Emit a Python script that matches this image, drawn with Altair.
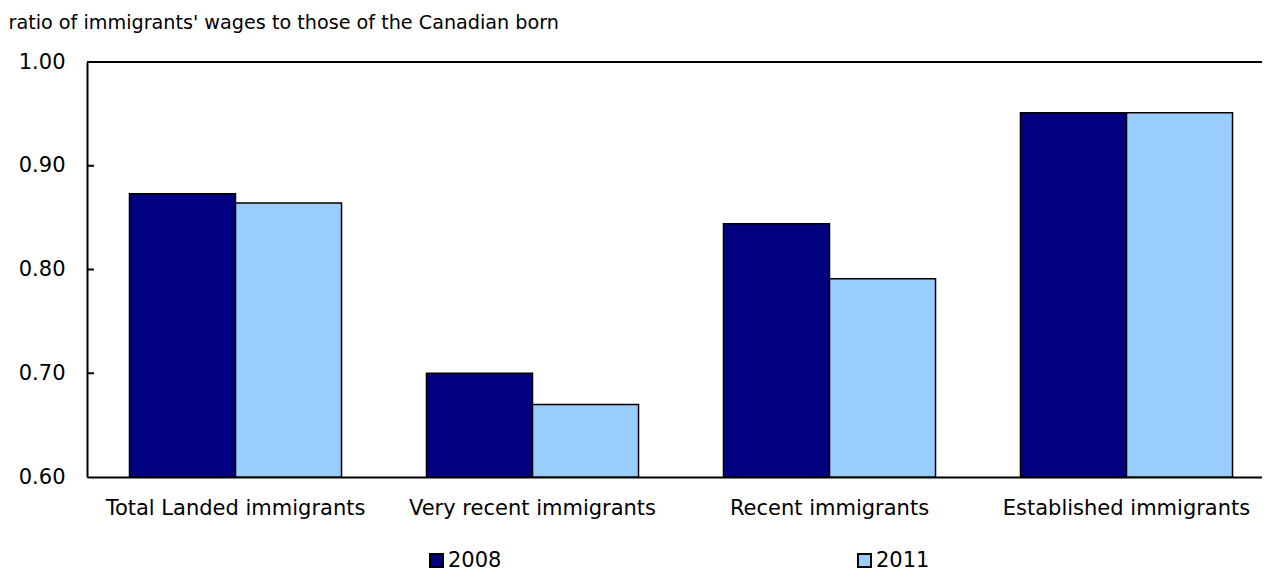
import altair as alt
import pandas as pd

categories = ["Total Landed immigrants", "Very recent immigrants", "Recent immigrants", "Established immigrants"]
years = ["2008", "2011"]
values_2008 = [0.873, 0.700, 0.844, 0.951]
values_2011 = [0.864, 0.670, 0.791, 0.951]
y_ticks = [0.60, 0.70, 0.80, 0.90, 1.00]
inner_ticks = [0.70, 0.80, 0.90]
title_text = "ratio of immigrants' wages to those of the Canadian born"
colors = ["#000080", "#99CCFF"]

rows = []
for c, a, b in zip(categories, values_2008, values_2011):
    rows.append({"category": c, "year": "2008", "value": a})
    rows.append({"category": c, "year": "2011", "value": b})
df = pd.DataFrame(rows)

FONT = "DejaVu Sans"
W, H = 1175, 415
XR = 1188

yscale = alt.Scale(domain=[0.6, 1.0], zero=False, nice=False)

bars = alt.Chart(df).mark_bar(stroke="black", strokeWidth=1.5).encode(
    x=alt.X("category:N", sort=categories,
            scale=alt.Scale(range=[0, XR], paddingInner=0.286, paddingOuter=0.143),
            axis=alt.Axis(title=None, labelAngle=0, labelFont=FONT, labelFontSize=21,
                          labelColor="black", ticks=False, labelPadding=20, labelLimit=0,
                          domainColor="black", domainWidth=2)),
    xOffset=alt.XOffset("year:N", sort=years),
    y=alt.Y("value:Q", scale=yscale,
            axis=alt.Axis(values=y_ticks, format=".2f", labelFont=FONT, labelFontSize=21,
                          labelColor="black", ticks=False, labelPadding=22, grid=False,
                          domainColor="black", domainWidth=2,
                          title=title_text, titleAngle=0, titleAlign="left",
                          titleBaseline="alphabetic", titleX=-79, titleY=-34,
                          titleFont=FONT, titleFontSize=19.2, titleFontWeight="normal",
                          titleColor="black")),
    y2=alt.datum(0.6),
    color=alt.Color("year:N", sort=years,
                    scale=alt.Scale(domain=years, range=colors),
                    legend=alt.Legend(title=None, orient="none", direction="horizontal",
                                      legendX=339, legendY=488, columns=2,
                                      columnPadding=352, symbolType="square",
                                      symbolSize=169, symbolStrokeColor="black",
                                      symbolStrokeWidth=2, labelFont=FONT,
                                      labelFontSize=21, labelColor="black",
                                      labelOffset=1)),
)

tick_df = pd.DataFrame({"v": inner_ticks})
ticks = alt.Chart(tick_df).mark_rule(color="black", strokeWidth=2).encode(
    y=alt.Y("v:Q", scale=yscale),
    x=alt.value(0),
    x2=alt.value(7),
)

top_df = pd.DataFrame({"v": [1.0]})
top_line = alt.Chart(top_df).mark_rule(color="black", strokeWidth=2).encode(
    y=alt.Y("v:Q", scale=yscale),
    x=alt.value(0),
    x2=alt.value(XR),
)

chart = alt.layer(bars, ticks, top_line).properties(
    width=W, height=H,
    padding={"left": 79, "top": 54, "right": 0, "bottom": 96},
    autosize=alt.AutoSizeParams(type="none"),
).configure_view(stroke=None).configure(background="white")

chart.save("out.html", embed_options={"renderer": "svg", "actions": False})
